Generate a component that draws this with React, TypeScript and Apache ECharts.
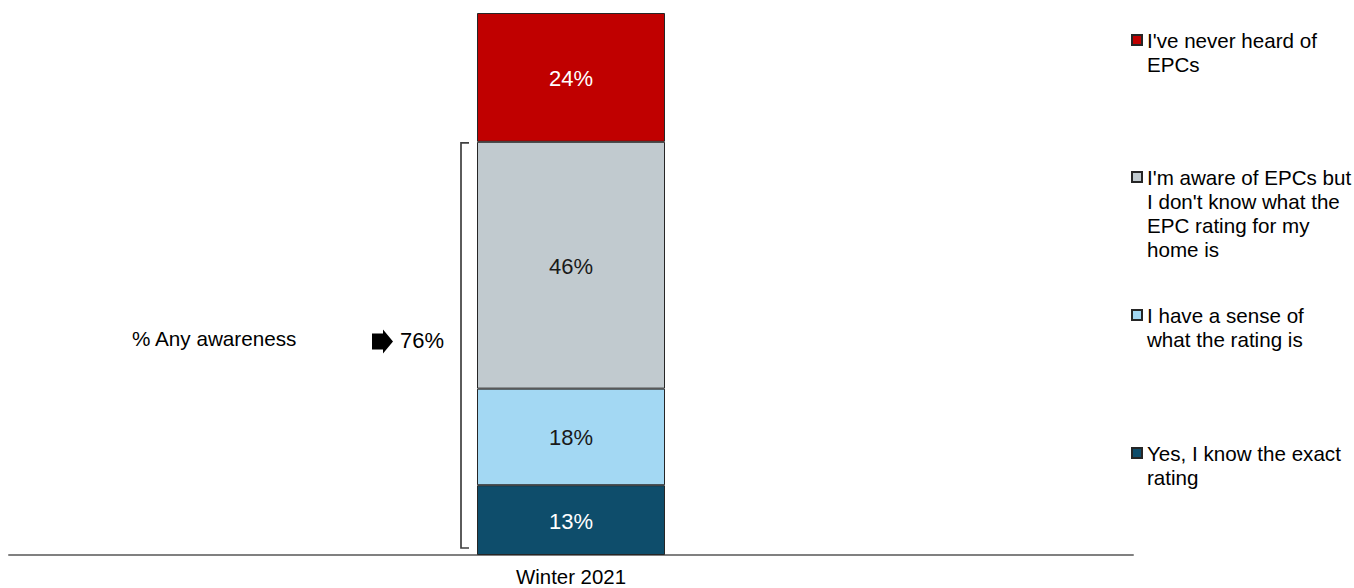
import React, { useEffect, useRef } from "react";
import * as echarts from "echarts";

const categories = ["Winter 2021"];
// bottom to top
const seriesNames = [
  "Yes, I know the exact rating",
  "I have a sense of what the rating is",
  "I'm aware of EPCs but I don't know what the EPC rating for my home is",
  "I've never heard of EPCs",
];
const seriesValues = [13, 18, 46, 24];
const seriesColors = ["#0E4D6B", "#A3D8F3", "#C1CACF", "#C00000"];
const labelColors = ["#FFFFFF", "#1a1a1a", "#1a1a1a", "#FFFFFF"];
const legendLines = [
  ["Yes, I know the exact", "rating"],
  ["I have a sense of", "what the rating is"],
  ["I'm aware of EPCs but", "I don't know what the", "EPC rating for my", "home is"],
  ["I've never heard of", "EPCs"],
];
const legendIconCenters = [453, 315, 177, 40];
const awarenessLabel = "% Any awareness";
const awarenessTotal = 76;

const FONT = "'Liberation Sans', Arial, sans-serif";

export default function App() {
  const ref = useRef<HTMLDivElement>(null);

  useEffect(() => {
    if (!ref.current) return;
    const chart = echarts.init(ref.current, null, { renderer: "svg" });
    const total = seriesValues.reduce((a, b) => a + b, 0);
    const LH = 24;

    const legends = seriesNames.map((name, i) => {
      const lines = legendLines[i];
      const n = lines.length;
      return {
        data: [name],
        orient: "vertical",
        left: 1131,
        top: legendIconCenters[i] - ((2 * n - 1) * LH) / 2,
        padding: 0,
        icon: "rect",
        itemWidth: 10,
        itemHeight: 10,
        selectedMode: false,
        textStyle: { fontFamily: FONT, fontSize: 20.6, lineHeight: LH, color: "#000" },
        formatter: () => new Array(n - 1).fill("").concat(lines).join("\n"),
      };
    });

    chart.setOption({
      animation: false,
      grid: { left: 9, right: 221, top: 13, bottom: 33 },
      xAxis: {
        type: "category",
        data: categories,
        axisLine: { show: true, lineStyle: { color: "#808080", width: 2 } },
        axisTick: { show: false },
        axisLabel: { fontFamily: FONT, fontSize: 20.4, color: "#000", margin: 12 },
      },
      yAxis: { type: "value", min: 0, max: total, show: false, splitLine: { show: false } },
      legend: legends,
      series: seriesNames.map((name, i) => ({
        name,
        type: "bar",
        stack: "total",
        barWidth: 188,
        data: [seriesValues[i]],
        itemStyle: { color: seriesColors[i], borderColor: "#262626", borderWidth: 1 },
        label: {
          show: true,
          position: "inside",
          formatter: "{c}%",
          fontFamily: FONT,
          fontSize: 22,
          color: labelColors[i],
          offset: [0, 1],
        },
      })),
    });

    const awareSum = seriesValues.slice(0, 3).reduce((a, b) => a + b, 0);
    const cx = chart.convertToPixel({ xAxisIndex: 0 }, categories[0]) as number;
    const yTop = (chart.convertToPixel({ yAxisIndex: 0 }, awareSum) as number) + 1;
    const yBase = chart.convertToPixel({ yAxisIndex: 0 }, 0) as number;
    const yBot = yBase - 7;
    const barLeft = cx - 94;
    const bx = barLeft - 16;
    const midY = (yTop + yBot) / 2 - 4;
    const ax = 372;

    chart.setOption({
      graphic: [
        {
          type: "polyline",
          shape: { points: [[bx + 8, yTop], [bx, yTop], [bx, yBot], [bx + 8, yBot]] },
          style: { stroke: "#404040", lineWidth: 1.7, fill: null },
        },
        {
          type: "polygon",
          shape: {
            points: [
              [ax, midY - 8], [ax + 11, midY - 8], [ax + 11, midY - 12], [ax + 21, midY],
              [ax + 11, midY + 12], [ax + 11, midY + 8], [ax, midY + 8],
            ],
          },
          style: { fill: "#000" },
        },
        {
          type: "text",
          x: 400,
          y: midY - 1,
          style: { text: awarenessTotal + "%", font: `22px ${FONT}`, fill: "#000", verticalAlign: "middle" },
        },
        {
          type: "text",
          x: 132,
          y: midY - 3,
          style: { text: awarenessLabel, font: `20.7px ${FONT}`, fill: "#000", verticalAlign: "middle" },
        },
      ],
    });

    return () => chart.dispose();
  }, []);

  return (
    <div
      ref={ref}
      style={{ position: "absolute", left: 0, top: 0, width: 1354, height: 588, background: "#fff" }}
    />
  );
}
